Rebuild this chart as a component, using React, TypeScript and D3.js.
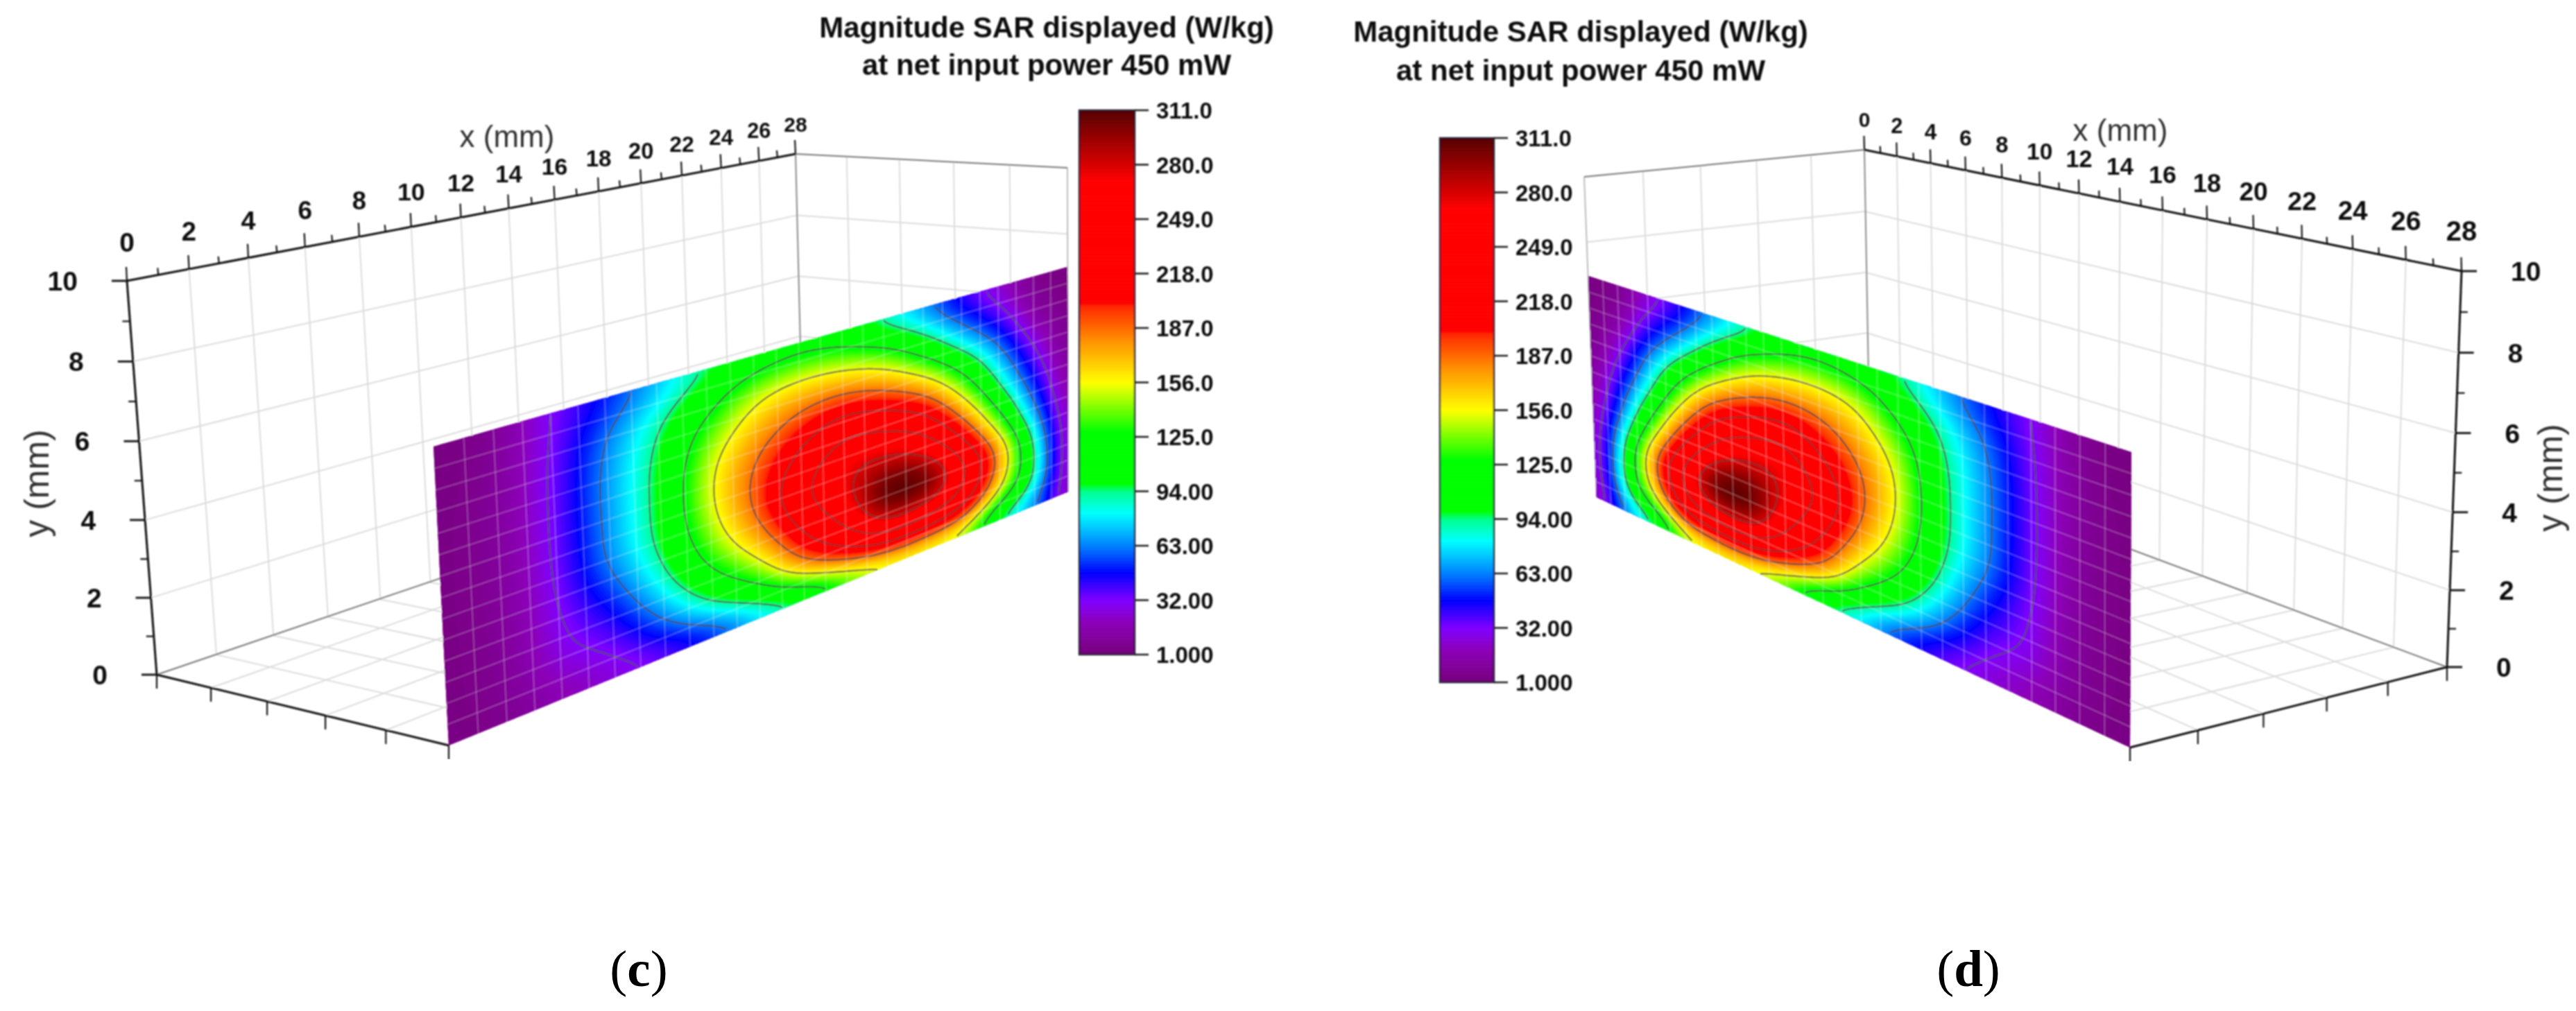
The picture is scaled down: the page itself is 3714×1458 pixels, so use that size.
import React, { useEffect, useRef } from "react";
import * as d3 from "d3";

const sarY0 = [3, 8, 18, 26, 35, 50, 74, 96, 128, 146, 150, 140, 92, 63, 20];
const sarY1 = [4, 10, 27, 38, 64, 97, 130, 180, 220, 255, 253, 228, 160, 92, 20];
const sarY2 = [4, 11, 31, 53, 88, 130, 170, 222, 264, 310, 308, 255, 178, 90, 20];
const sarY3 = [4, 12, 34, 66, 100, 148, 192, 242, 275, 286, 266, 210, 137, 66, 17];
const sarY4 = [4, 12, 35, 68, 102, 153, 190, 222, 250, 242, 215, 160, 98, 47, 12];
const sarY5 = [4, 12, 35, 68, 100, 143, 172, 192, 200, 187, 158, 115, 70, 30, 8];
const sarY6 = [3, 11, 34, 63, 91, 120, 147, 156, 152, 136, 105, 70, 42, 15, 5];
const sarY7 = [3, 10, 32, 50, 72, 94, 108, 114, 108, 88, 66, 42, 24, 8, 3];
const sarRows = [sarY0, sarY1, sarY2, sarY3, sarY4, sarY5, sarY6, sarY7];

const contourLevels = [32, 63, 94, 125, 156, 187, 218, 249, 280];
const barValues = [1, 32, 63, 94, 125, 156, 187, 218, 249, 280, 311];
const barLabels = ["1.000", "32.00", "63.00", "94.00", "125.0", "156.0", "187.0", "218.0", "249.0", "280.0", "311.0"];
const colorStops = [1, 19.6, 32, 47.5, 63, 81.6, 94, 98.6, 128, 156, 180.8, 199.4, 201, 270.7, 311];
const colorHex = ["#76007c", "#8c00b8", "#8000ff", "#0000ff", "#0080ff", "#00ffff", "#00ff90", "#00ff00", "#00ff00", "#ffff00", "#ff8c00", "#ff2800", "#ff0000", "#ff0000", "#560000"];

const xTicks = d3.range(0, 29);
const yTicks = d3.range(0, 11);
const zTicks = [0, 1, 2, 3, 4, 5];
const titleLines = ["Magnitude SAR displayed (W/kg)", "at net input power 450 mW"];

const sans = "'Liberation Sans', Arial, sans-serif";
const color = d3.scaleLinear().domain(colorStops).range(colorHex).clamp(true);

// the four screen corners of each face, order (0,0) (1,0) (1,1) (0,1)
const panels = [
    {
        wall: [[226, 973], [1158, 656], [1147, 222], [183, 405]],
        side: [[1158, 656], [1540, 709], [1539, 242], [1147, 222]],
        floor: [[226, 973], [1158, 656], [1540, 709], [647, 1075]],
        plane: [[647, 1075], [1540, 709], [1539, 385], [625, 644]],
        flip: false,
        yDir: -1,
        xLabelUp: [56, 43],
        xLabelSize: [39, 30],
        bar: { x0: 1556, x1: 1636, top: 159, bottom: 944 },
        title: { x: 1509, y: [54, 108] },
        xName: [731, 198],
        yName: [52, 697],
        caption: { text: "c", x: 921 },
    },
    {
        wall: [[2696, 652], [3528, 962], [3549, 391], [2688, 216]],
        side: [[2696, 652], [2302, 717], [2284, 255], [2688, 216]],
        floor: [[2696, 652], [3528, 962], [3071, 1078], [2302, 717]],
        plane: [[2302, 717], [3071, 1078], [3073, 652], [2290, 398]],
        flip: true,
        yDir: 1,
        xLabelUp: [44, 58],
        xLabelSize: [30, 40],
        bar: { x0: 2076, x1: 2154, top: 199, bottom: 984 },
        title: { x: 2279, y: [60, 116] },
        xName: [3057, 189],
        yName: [3676, 689],
        caption: { text: "d", x: 2838 },
    },
];

// square to quad perspective map
const quadMap = (q) => {
    const [[x0, y0], [x1, y1], [x2, y2], [x3, y3]] = q;
    const dx1 = x1 - x2, dx2 = x3 - x2, sx = x0 - x1 + x2 - x3;
    const dy1 = y1 - y2, dy2 = y3 - y2, sy = y0 - y1 + y2 - y3;
    const den = dx1 * dy2 - dx2 * dy1;
    const g = (sx * dy2 - dx2 * sy) / den;
    const h = (dx1 * sy - sx * dy1) / den;
    const a = x1 - x0 + g * x1, b = x3 - x0 + h * x3;
    const d = y1 - y0 + g * y1, e = y3 - y0 + h * y3;
    return (u, v) => {
        const w = g * u + h * v + 1;
        return [(a * u + b * v + x0) / w, (d * u + e * v + y0) / w];
    };
};

const catmull = (p0, p1, p2, p3, t) =>
    0.5 * (2 * p1 + (p2 - p0) * t + (2 * p0 - 5 * p1 + 4 * p2 - p3) * t * t + (3 * p1 - p0 - 3 * p2 + p3) * t * t * t);

// finer sampling of the read table, only so that the bands come out smooth
const gridW = 225;
const gridH = 113;
const sampleField = () => {
    const nr = sarRows.length, nc = sarRows[0].length;
    const at = (r, c) => sarRows[Math.max(0, Math.min(nr - 1, r))][Math.max(0, Math.min(nc - 1, c))];
    const out = new Float64Array(gridW * gridH);
    for (let j = 0; j < gridH; j++) {
        const fr = (j / (gridH - 1)) * (nr - 1);
        const r = Math.min(nr - 2, Math.floor(fr));
        for (let i = 0; i < gridW; i++) {
            const fc = (i / (gridW - 1)) * (nc - 1);
            const c = Math.min(nc - 2, Math.floor(fc));
            const col = [-1, 0, 1, 2].map(k => catmull(at(r + k, c - 1), at(r + k, c), at(r + k, c + 1), at(r + k, c + 2), fc - c));
            out[j * gridW + i] = Math.max(1, Math.min(311, catmull(col[0], col[1], col[2], col[3], fr - r)));
        }
    }
    d3.blur2({ data: out, width: gridW, height: gridH }, 3, 4);
    return out;
};

const line = d3.line();

const App = () => {
    const ref = useRef(null);

    useEffect(() => {
        document.body.style.margin = "0";
        const svg = d3.select(ref.current);
        svg.selectAll("g,text").remove();

        const field = sampleField();
        const fillLevels = d3.range(2, 311, 1.6);
        const fillBands = d3.contours().size([gridW, gridH]).smooth(true).thresholds(fillLevels)(field);
        const lineBands = d3.contours().size([gridW, gridH]).smooth(true).thresholds(contourLevels)(field);

        const render = (p) => {
            const g = svg.append("g").attr("filter", "url(#soft)");
            const wall = quadMap(p.wall);
            const side = quadMap(p.side);
            const floor = quadMap(p.floor);
            const plane = quadMap(p.plane);
            const wallAt = (x, y) => wall(x / 28, y / 10);
            const sideAt = (z, y) => side(z / 5, y / 10);
            const floorAt = (x, z) => floor(x / 28, z / 5);
            const planeAt = (u, v) => plane(p.flip ? 1 - u : u, v);
            // x of the near corner, where the y axis and the z axis sit, and of the far one
            const nearX = p.flip ? 28 : 0;
            const farX = p.flip ? 0 : 28;

            const seg = (a, b, stroke, w) =>
                g.append("path").attr("d", line([a, b])).attr("stroke", stroke).attr("stroke-width", w).attr("fill", "none");

            // walls and floor grid
            const gridColor = "#dcdcdc";
            d3.range(2, 28, 2).forEach(x => {
                seg(wallAt(x, 0), wallAt(x, 10), gridColor, 2);
                seg(floorAt(x, 0), floorAt(x, 5), gridColor, 2);
            });
            d3.range(2, 10, 2).forEach(y => {
                seg(wallAt(0, y), wallAt(28, y), gridColor, 2);
                seg(sideAt(0, y), sideAt(5, y), gridColor, 2);
            });
            d3.range(1, 5).forEach(z => {
                seg(sideAt(z, 0), sideAt(z, 10), gridColor, 2);
                seg(floorAt(0, z), floorAt(28, z), gridColor, 2);
            });
            seg(sideAt(5, 0), sideAt(5, 10), "#bbb", 2);
            seg(sideAt(0, 10), sideAt(5, 10), "#777", 2);
            seg(wallAt(farX, 0), wallAt(farX, 10), "#888", 2);
            seg(floorAt(0, 0), floorAt(28, 0), "#777", 2);

            // SAR plane
            const projector = d3.geoTransform({
                point(cx, cy) {
                    const u = Math.max(0, Math.min(1, (cx - 0.5) / (gridW - 1)));
                    const v = Math.max(0, Math.min(1, (cy - 0.5) / (gridH - 1)));
                    const q = planeAt(u, v);
                    this.stream.point(q[0], q[1]);
                },
            });
            const geo = d3.geoPath(projector);
            g.append("path")
                .attr("d", line([planeAt(0, 0), planeAt(1, 0), planeAt(1, 1), planeAt(0, 1)]) + "Z")
                .attr("fill", color(1));
            g.append("g").selectAll("path").data(fillBands).join("path")
                .attr("d", geo)
                .attr("fill", d => color(d.value));

            // contour lines, without the parts that run along the plane's edge
            const inside = ([cx, cy]) => cx > 0.6 && cx < gridW - 0.6 && cy > 0.6 && cy < gridH - 0.6;
            lineBands.forEach(band => {
                band.coordinates.forEach(poly => poly.forEach(ring => {
                    let run = [];
                    const flush = () => {
                        if (run.length > 1) {
                            g.append("path")
                                .attr("d", line(run.map(([cx, cy]) => planeAt((cx - 0.5) / (gridW - 1), (cy - 0.5) / (gridH - 1)))))
                                .attr("fill", "none")
                                .attr("stroke", "#4a4a4a")
                                .attr("stroke-opacity", band.value > 190 ? 0.6 : 0.85)
                                .attr("stroke-width", 2.2);
                        }
                        run = [];
                    };
                    ring.forEach(pt => {
                        if (inside(pt)) run.push(pt);
                        else flush();
                    });
                    flush();
                }));
            });

            // plane mesh
            const mesh = (a, b) => seg(a, b, "rgba(255,255,255,0.26)", 1.6);
            d3.range(1, 28).forEach(i => mesh(planeAt(i / 28, 0), planeAt(i / 28, 1)));
            d3.range(1, 14).forEach(j => mesh(planeAt(0, j / 14), planeAt(1, j / 14)));

            // axes
            const axisColor = "#111";
            seg(wallAt(0, 10), wallAt(28, 10), axisColor, 3);
            seg(wallAt(nearX, 0), wallAt(nearX, 10), axisColor, 3);
            seg(floorAt(nearX, 0), floorAt(nearX, 5), axisColor, 3);

            xTicks.forEach(x => {
                const q = wallAt(x, 10);
                const major = x % 2 === 0;
                seg(q, [q[0] - (p.flip ? 0.5 : 1), q[1] - (major ? 20 : 10)], axisColor, 2.2);
                if (major) {
                    const t = x / 28;
                    const up = p.xLabelUp[0] + (p.xLabelUp[1] - p.xLabelUp[0]) * t;
                    const size = p.xLabelSize[0] + (p.xLabelSize[1] - p.xLabelSize[0]) * t;
                    g.append("text")
                        .attr("x", q[0])
                        .attr("y", q[1] - up + size * 0.36)
                        .attr("text-anchor", "middle")
                        .attr("font-family", sans)
                        .attr("font-weight", 700)
                        .attr("font-size", size)
                        .attr("fill", "#111")
                        .text(x);
                }
            });

            yTicks.forEach(y => {
                const q = wallAt(nearX, y);
                const major = y % 2 === 0;
                seg(q, [q[0] + p.yDir * (major ? 22 : 11), q[1]], axisColor, major ? 2.8 : 2.2);
                if (major) {
                    g.append("text")
                        .attr("x", q[0] + p.yDir * 71)
                        .attr("y", q[1] + 14)
                        .attr("text-anchor", p.flip ? "start" : "end")
                        .attr("font-family", sans)
                        .attr("font-weight", 700)
                        .attr("font-size", 39)
                        .attr("fill", "#111")
                        .text(y);
                }
            });
            zTicks.forEach(z => {
                const q = floorAt(nearX, z);
                seg(q, [q[0], q[1] + 20], axisColor, 2.2);
            });

            g.append("text")
                .attr("x", p.xName[0]).attr("y", p.xName[1] + 14)
                .attr("text-anchor", "middle")
                .attr("font-family", sans).attr("font-size", 44).attr("fill", "#333")
                .text("x (mm)");
            g.append("text")
                .attr("transform", `translate(${p.yName[0]},${p.yName[1]}) rotate(-90)`)
                .attr("dy", "0.35em")
                .attr("text-anchor", "middle")
                .attr("font-family", sans).attr("font-size", 50).attr("fill", "#333")
                .text("y (mm)");

            // colour bar
            const barY = d3.scaleLinear().domain([1, 311]).range([p.bar.bottom, p.bar.top]);
            g.append("g").selectAll("rect").data(d3.range(1, 311)).join("rect")
                .attr("x", p.bar.x0)
                .attr("width", p.bar.x1 - p.bar.x0)
                .attr("y", d => barY(d + 1))
                .attr("height", d => barY(d) - barY(d + 1) + 0.6)
                .attr("fill", d => color(d + 0.5));
            g.append("rect")
                .attr("x", p.bar.x0).attr("y", p.bar.top)
                .attr("width", p.bar.x1 - p.bar.x0).attr("height", p.bar.bottom - p.bar.top)
                .attr("fill", "none").attr("stroke", "#223").attr("stroke-width", 2.4);
            barValues.forEach((v, i) => {
                seg([p.bar.x1, barY(v)], [p.bar.x1 + 20, barY(v)], "#222", 2.6);
                g.append("text")
                    .attr("x", p.bar.x1 + 31)
                    .attr("y", barY(v) + 12)
                    .attr("font-family", sans)
                    .attr("font-weight", 700)
                    .attr("font-size", 33)
                    .attr("fill", "#111")
                    .text(barLabels[i]);
            });

            titleLines.forEach((t, i) => {
                g.append("text")
                    .attr("x", p.title.x).attr("y", p.title.y[i])
                    .attr("text-anchor", "middle")
                    .attr("font-family", sans).attr("font-weight", 700)
                    .attr("font-size", 42).attr("fill", "#111")
                    .text(t);
            });

            // sub-figure caption
            const cap = svg.append("text")
                .attr("x", p.caption.x).attr("y", 1422)
                .attr("text-anchor", "middle")
                .attr("font-family", "'Liberation Serif', serif")
                .attr("font-size", 75).attr("fill", "#000");
            cap.append("tspan").text("(");
            cap.append("tspan").attr("font-weight", 700).text(p.caption.text);
            cap.append("tspan").text(")");
        };

        panels.forEach(render);
    }, []);

    return (
        <svg ref={ref} width={3714} height={1458} style={{ display: "block", background: "#fff" }}>
            <defs>
                <filter id="soft" x="0" y="0" width="1" height="1" filterUnits="objectBoundingBox">
                    <feGaussianBlur stdDeviation="0.9" />
                </filter>
            </defs>
        </svg>
    );
};

export default App;
